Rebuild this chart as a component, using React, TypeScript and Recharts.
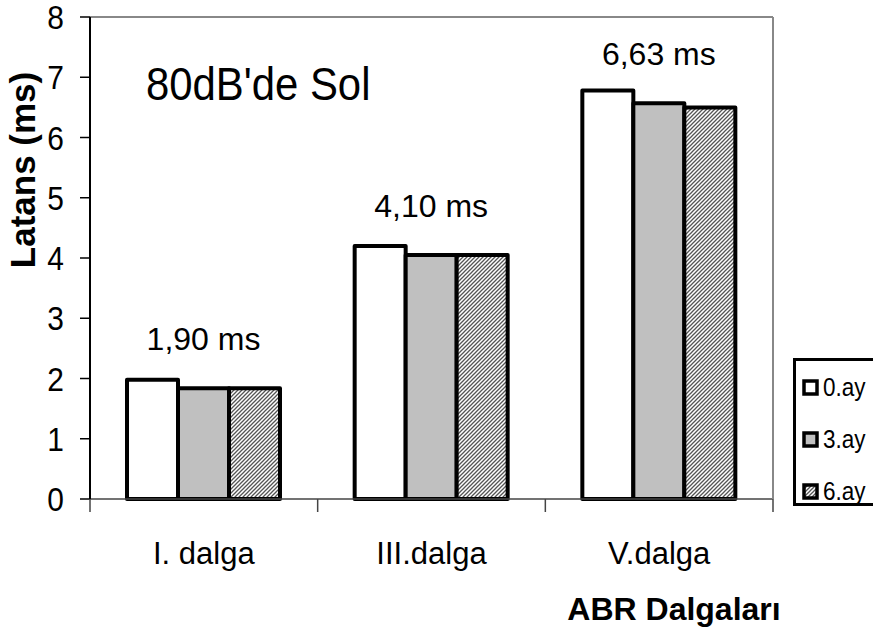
import { BarChart, Bar, XAxis, YAxis, LabelList, ReferenceLine } from "recharts";

const waves = ["I. dalga", "III.dalga", "V.dalga"];
const month0 = [1.98, 4.2, 6.78];
const month3 = [1.84, 4.05, 6.57];
const month6 = [1.84, 4.05, 6.5];
const meanLabels = ["1,90 ms", "4,10 ms", "6,63 ms"];
const yTicks = [0, 1, 2, 3, 4, 5, 6, 7, 8];
const seriesNames = ["0.ay", "3.ay", "6.ay"];

const FONT = "'Liberation Sans', Arial, sans-serif";
const PLOT_LEFT = 90;
const PLOT_RIGHT = 773;
const BAND = (PLOT_RIGHT - PLOT_LEFT) / waves.length;

const data = waves.map((wave, i) => ({
  wave,
  m0: month0[i],
  m3: month3[i],
  m6: month6[i],
  mean: meanLabels[i],
}));

function CategoryTick(props: any) {
  const { x, y, payload, index } = props;
  const last = index === waves.length - 1;
  return (
    <g>
      <line x1={x - BAND / 2} y1={y} x2={x - BAND / 2} y2={y + 13} stroke="#444" strokeWidth={1.5} />
      {last && <line x1={x + BAND / 2} y1={y} x2={x + BAND / 2} y2={y + 13} stroke="#444" strokeWidth={1.5} />}
      <text x={x} y={y + 65} textAnchor="middle" fontSize={31} fontFamily={FONT} fill="#000">
        {payload.value}
      </text>
    </g>
  );
}

function ValueTick(props: any) {
  const { x, y, payload } = props;
  return (
    <text
      transform={`translate(${x},${y}) scale(0.88,1)`}
      dy="0.36em"
      textAnchor="end"
      fontSize={34}
      fontFamily={FONT}
      fill="#000"
    >
      {payload.value}
    </text>
  );
}

function LegendIcon({ fill }: { fill: string }) {
  return (
    <svg width={17} height={17} style={{ display: "block" }}>
      <rect x={2} y={2} width={13} height={13} fill={fill} stroke="#000" strokeWidth={3.5} />
    </svg>
  );
}

export default function App() {
  const fills = ["#ffffff", "#c0c0c0", "url(#hatch)"];
  return (
    <div style={{ position: "relative", width: 873, height: 634, fontFamily: FONT, background: "#fff" }}>
      <style>{`body{margin:0}`}</style>
      <BarChart
        width={873}
        height={634}
        data={data}
        margin={{ top: 17, right: 99, bottom: 75, left: 30 }}
        barCategoryGap={37}
        barGap={0}
      >
        <defs>
          <pattern id="hatch" patternUnits="userSpaceOnUse" width={4} height={4}>
            <rect width={4} height={4} fill="#fff" />
            <path d="M-1,1 L1,-1 M0,4 L4,0 M3,5 L5,3" stroke="#555" strokeWidth={1.3} />
          </pattern>
        </defs>
        <XAxis
          dataKey="wave"
          height={60}
          axisLine={{ stroke: "#444", strokeWidth: 1.5 }}
          tickLine={false}
          tickSize={0}
          tickMargin={0}
          interval={0}
          tick={<CategoryTick />}
          label={{
            content: () => (
              <text x={674} y={620} textAnchor="middle" fontSize={32} fontWeight="bold" fontFamily={FONT} fill="#000">
                ABR Dalgaları
              </text>
            ),
          }}
        />
        <YAxis
          domain={[0, 8]}
          ticks={yTicks}
          interval={0}
          width={60}
          axisLine={{ stroke: "#000", strokeWidth: 2 }}
          tickLine={{ stroke: "#000", strokeWidth: 1.5 }}
          tickSize={10}
          tickMargin={16}
          tick={<ValueTick />}
          label={{
            content: () => (
              <text
                x={35}
                y={170}
                transform="rotate(-90 35 170)"
                textAnchor="middle"
                fontSize={35}
                fontWeight="bold"
                fontFamily={FONT}
                fill="#000"
              >
                Latans (ms)
              </text>
            ),
          }}
        />
        <YAxis
          yAxisId="right"
          orientation="right"
          domain={[0, 8]}
          width={1}
          tick={false}
          tickLine={false}
          axisLine={{ stroke: "#888", strokeWidth: 2 }}
        />
        <ReferenceLine y={8} stroke="#888" strokeWidth={2} />
        <Bar dataKey="m0" name={seriesNames[0]} fill={fills[0]} stroke="#000" strokeWidth={4} strokeLinejoin="round" isAnimationActive={false} />
        <Bar dataKey="m3" name={seriesNames[1]} fill={fills[1]} stroke="#000" strokeWidth={4} strokeLinejoin="round" isAnimationActive={false}>
          <LabelList
            dataKey="mean"
            content={(p: any) => (
              <text
                x={p.x + p.width / 2}
                y={p.y - 38}
                textAnchor="middle"
                fontSize={32}
                fontFamily={FONT}
                fill="#000"
              >
                {p.value}
              </text>
            )}
          />
        </Bar>
        <Bar dataKey="m6" name={seriesNames[2]} fill={fills[2]} stroke="#000" strokeWidth={4} strokeLinejoin="round" isAnimationActive={false} />
      </BarChart>

      <div
        style={{
          position: "absolute",
          left: 146,
          top: 61,
          fontSize: 46,
          lineHeight: "46px",
          whiteSpace: "nowrap",
          color: "#000",
          transform: "scaleX(0.91)",
          transformOrigin: "left center",
        }}
      >
        80dB'de Sol
      </div>

      <div
        style={{
          position: "absolute",
          left: 793,
          top: 358,
          width: 100,
          height: 148,
          border: "3px solid #000",
          boxSizing: "border-box",
          paddingLeft: 6,
        }}
      >
        {seriesNames.map((name, i) => (
          <div key={name} style={{ display: "flex", alignItems: "center", height: 52, gap: 4 }}>
            <LegendIcon fill={fills[i]} />
            <span
              style={{
                fontSize: 25,
                lineHeight: "25px",
                display: "inline-block",
                transform: "scaleX(0.9)",
                transformOrigin: "left center",
              }}
            >
              {name}
            </span>
          </div>
        ))}
      </div>
    </div>
  );
}
